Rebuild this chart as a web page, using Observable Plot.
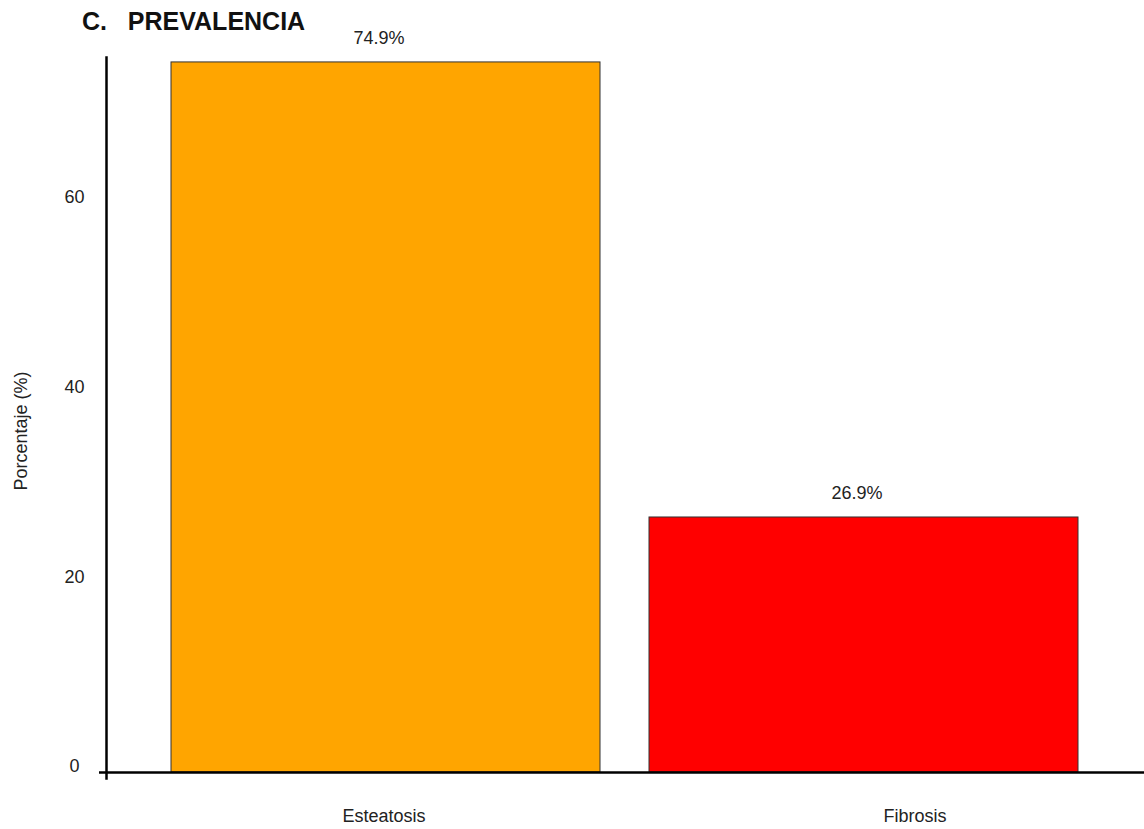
<!DOCTYPE html>
<html><head><meta charset="utf-8">
<script src="https://cdn.jsdelivr.net/npm/d3@7"></script>
<script src="https://cdn.jsdelivr.net/npm/@observablehq/plot@0.6"></script>
<style>
body{margin:0;background:#fff;font-family:"Liberation Sans",Arial,sans-serif;}
#title{font-size:25px;font-weight:bold;line-height:24px;padding:9px 0 0 82px;height:24px;white-space:pre;color:#111;}
</style></head><body>
<div id="title">C.   PREVALENCIA</div>
<div id="chart"></div>
<script>
const categories = ["Esteatosis", "Fibrosis"];
const values = [74.9, 26.9];
const colors = ["#FFA500", "#FF0000"];
const yTicks = [0, 20, 40, 60];
const yLabel = "Porcentaje (%)";
const data = categories.map((c, i) => ({categoria: c, valor: values[i]}));

const chart = Plot.plot({
  width: 1144, height: 796,
  marginTop: 24, marginBottom: 57, marginLeft: 106, marginRight: 0,
  style: {fontFamily: "Liberation Sans, Arial, sans-serif", background: "#fff", color: "#222", overflow: "visible"},
  x: {type: "band", domain: categories, paddingInner: 0.102, paddingOuter: 0.1346, axis: null},
  y: {domain: [0, 75.42], axis: null},
  color: {domain: categories, range: colors},
  marks: [
    Plot.barY(data, {x: "categoria", y: "valor", fill: "categoria", stroke: "#333", strokeWidth: 1}),
    Plot.axisY(yTicks, {tickSize: 0, tickPadding: 32, textAnchor: "middle", fontSize: 18, dy: -6, fill: "#222", label: null}),
    Plot.ruleY([0], {stroke: "#000", strokeWidth: 2.5, insetLeft: -7}),
    Plot.frame({anchor: "left", stroke: "#000", strokeWidth: 2.5, insetBottom: -6}),
    Plot.text(data, {x: "categoria", y: "valor", text: d => d.valor.toFixed(1) + "%", dy: -24, dx: -7, fontSize: 18, fill: "#222"}),
    Plot.text(categories, {filter: (d, i) => i === 0, x: d => d, y: () => 0, dy: 44, dx: -2, fontSize: 18, fill: "#222"}),
    Plot.text(categories, {filter: (d, i) => i === 1, x: d => d, y: () => 0, dy: 44, dx: 51, fontSize: 18, fill: "#222"}),
    Plot.text([yLabel], {frameAnchor: "left", textAnchor: "middle", rotate: -90, dx: -85, dy: 16, fontSize: 18, fill: "#222"})
  ]
});
document.getElementById("chart").appendChild(chart);
</script>
</body></html>
